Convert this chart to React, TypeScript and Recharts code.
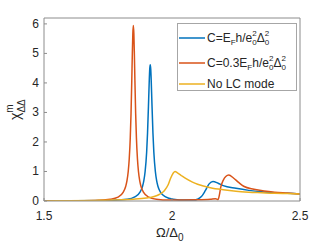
import { LineChart, Line, XAxis, YAxis } from "recharts";

// Ω/Δ0 ticks and χ ticks
const omegaTicks = [1.5, 2, 2.5];
const chiTicks = [0, 1, 2, 3, 4, 5, 6];

// C = E_F h / e0^2 Δ0^2
const omegaFull = [1.5, 1.75, 1.825, 1.855, 1.875, 1.885, 1.89, 1.895, 1.901, 1.9045, 1.909, 1.911, 1.913, 1.915, 1.917, 1.919, 1.921, 1.9255, 1.929, 1.935, 1.94, 1.945, 1.955, 1.975, 2.005, 2.05, 2.085, 2.1, 2.115, 2.13, 2.145, 2.16, 2.18, 2.2, 2.25, 2.3, 2.35, 2.4, 2.45, 2.5];
const chiFull = [0, 0.02, 0.06, 0.14, 0.3, 0.5, 0.69, 1.0, 1.66, 2.31, 3.48, 4.03, 4.46, 4.62, 4.46, 4.03, 3.48, 2.31, 1.66, 1.0, 0.69, 0.5, 0.3, 0.14, 0.06, 0.03, 0.03, 0.06, 0.15, 0.35, 0.58, 0.66, 0.6, 0.52, 0.43, 0.36, 0.31, 0.28, 0.26, 0.24];

// C = 0.3 E_F h / e0^2 Δ0^2
const omegaThird = [1.5, 1.6, 1.7, 1.759, 1.789, 1.809, 1.819, 1.824, 1.829, 1.833, 1.837, 1.84, 1.843, 1.845, 1.847, 1.849, 1.851, 1.853, 1.855, 1.858, 1.861, 1.865, 1.869, 1.874, 1.879, 1.889, 1.909, 1.939, 1.99, 2.1, 2.15, 2.17, 2.18, 2.185, 2.19, 2.2, 2.21, 2.222, 2.24, 2.26, 2.28, 2.32, 2.36, 2.4, 2.45, 2.5];
const chiThird = [0, 0.01, 0.02, 0.06, 0.13, 0.29, 0.49, 0.68, 1.0, 1.43, 2.14, 2.97, 4.12, 4.97, 5.67, 5.95, 5.67, 4.97, 4.12, 2.97, 2.14, 1.43, 1.0, 0.68, 0.49, 0.29, 0.13, 0.06, 0.03, 0.04, 0.06, 0.08, 0.05, 0.2, 0.45, 0.7, 0.83, 0.88, 0.78, 0.63, 0.5, 0.4, 0.34, 0.3, 0.27, 0.24];

// no LC mode
const omegaNoLC = [1.5, 1.6, 1.7, 1.8, 1.85, 1.9, 1.93, 1.95, 1.97, 1.985, 1.995, 2.005, 2.012, 2.02, 2.035, 2.05, 2.08, 2.1, 2.15, 2.2, 2.25, 2.3, 2.35, 2.4, 2.45, 2.5];
const chiNoLC = [0, 0.01, 0.02, 0.04, 0.06, 0.1, 0.15, 0.22, 0.35, 0.55, 0.78, 0.95, 1.0, 0.96, 0.87, 0.78, 0.64, 0.57, 0.45, 0.38, 0.33, 0.3, 0.28, 0.26, 0.25, 0.24];

const zip = (xs: number[], ys: number[]) => xs.map((w, i) => ({ omega: w, chi: ys[i] }));

const series = [
  { key: "full", color: "#0072BD", data: zip(omegaFull, chiFull) },
  { key: "third", color: "#D95319", data: zip(omegaThird, chiThird) },
  { key: "nolc", color: "#EDB120", data: zip(omegaNoLC, chiNoLC) },
];

const AXIS = "#8c8c8c";
const TXT = "#262626";
const FONT = "'Liberation Sans', Arial, sans-serif";

const BottomTick = ({ x, y, payload }: any) => (
  <g>
    <line x1={x} x2={x} y1={y} y2={y - 3} stroke={AXIS} />
    <text x={x} y={y + 19} textAnchor="middle" fontSize={12} fill={TXT} fontFamily={FONT}>{payload.value}</text>
  </g>
);
const TopTick = ({ x, y }: any) => <line x1={x} x2={x} y1={y} y2={y + 3} stroke={AXIS} />;
const LeftTick = ({ x, y, payload }: any) => (
  <g>
    <line x1={x} x2={x + 3} y1={y} y2={y} stroke={AXIS} />
    <text x={x - 5} y={y + 4} textAnchor="end" fontSize={12} fill={TXT} fontFamily={FONT}>{payload.value}</text>
  </g>
);
const RightTick = ({ x, y }: any) => <line x1={x} x2={x - 3} y1={y} y2={y} stroke={AXIS} />;

const XLabel = () => (
  <text x={156} y={237} fontSize={13} fill={TXT} fontFamily={FONT}>
    Ω/Δ<tspan fontSize={10} dy={4}>0</tspan>
  </text>
);

const YLabel = () => (
  <text transform="translate(20,120) rotate(-90)" fontSize={14} fill={TXT} fontFamily={FONT}>
    χ<tspan fontSize={10} dy={-7}>m</tspan>
    <tspan fontSize={10} dx={-8.3} dy={12}>ΔΔ</tspan>
  </text>
);

// energy unit E_F h / e0^2 Δ0^2, written as TeX-like tspans
const Unit = () => (
  <>
    <tspan fontSize={8} dy={3}>F</tspan>
    <tspan dy={-3}>h/e</tspan>
    <tspan fontSize={8} dy={3}>0</tspan>
    <tspan fontSize={8} dx={-4.4} dy={-9}>2</tspan>
    <tspan dy={6}>Δ</tspan>
    <tspan fontSize={8} dy={3}>0</tspan>
    <tspan fontSize={8} dx={-4.4} dy={-9}>2</tspan>
  </>
);

const Legend = () => (
  <svg width={332} height={249} style={{ position: "absolute", left: 0, top: 0, pointerEvents: "none" }}>
    <rect x={177.5} y={23.5} width={119} height={67} fill="#fff" stroke="#a6a6a6" />
    {[38, 63, 84].map((y, i) => (
      <line key={i} x1={179} x2={205} y1={y} y2={y} stroke={series[i].color} strokeWidth={1.5} />
    ))}
    <g fontSize={12} fill={TXT} fontFamily={FONT}>
      <text x={207} y={42}>
        C=E<Unit />
      </text>
      <text x={207} y={67}>
        C=0.3E<Unit />
      </text>
      <text x={207} y={88}>No LC mode</text>
    </g>
  </svg>
);

export default function App() {
  return (
    <div style={{ position: "absolute", left: 0, top: 0, width: 332, height: 249, background: "#fff" }}>
      <LineChart width={332} height={249} margin={{ top: 17, right: 31, bottom: 18, left: 4 }}>
        <XAxis
          xAxisId="bottom"
          dataKey="omega"
          type="number"
          domain={[1.5, 2.5]}
          ticks={omegaTicks}
          allowDataOverflow
          height={30}
          tickSize={0}
          tickMargin={0}
          tickLine={false}
          tick={<BottomTick />}
          axisLine={{ stroke: AXIS }}
          label={<XLabel />}
        />
        <XAxis
          xAxisId="top"
          orientation="top"
          dataKey="omega"
          type="number"
          domain={[1.5, 2.5]}
          ticks={omegaTicks}
          height={1}
          tickSize={0}
          tickMargin={0}
          tickLine={false}
          tick={<TopTick />}
          axisLine={{ stroke: AXIS }}
        />
        <YAxis
          yAxisId="left"
          type="number"
          domain={[0, 6.2]}
          ticks={chiTicks}
          allowDataOverflow
          width={40}
          tickSize={0}
          tickMargin={0}
          tickLine={false}
          tick={<LeftTick />}
          axisLine={{ stroke: AXIS }}
          label={<YLabel />}
        />
        <YAxis
          yAxisId="right"
          orientation="right"
          type="number"
          domain={[0, 6.2]}
          ticks={chiTicks}
          width={1}
          tickSize={0}
          tickMargin={0}
          tickLine={false}
          tick={<RightTick />}
          axisLine={{ stroke: AXIS }}
        />
        {series.map((s) => (
          <Line
            key={s.key}
            xAxisId="bottom"
            yAxisId="left"
            data={s.data}
            dataKey="chi"
            type="monotone"
            stroke={s.color}
            strokeWidth={1.5}
            dot={false}
            isAnimationActive={false}
          />
        ))}
      </LineChart>
      <Legend />
    </div>
  );
}
